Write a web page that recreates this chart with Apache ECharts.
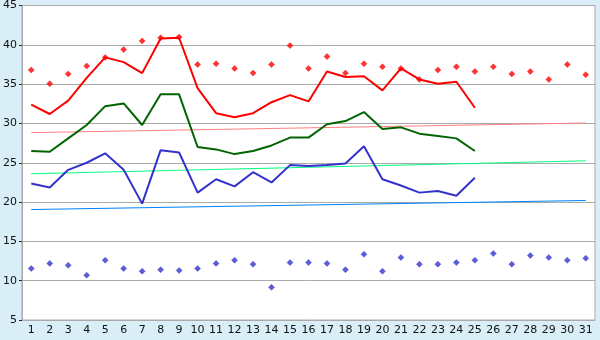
<!DOCTYPE html>
<html>
<head>
<meta charset="utf-8">
<script src="https://cdn.jsdelivr.net/npm/echarts@6/dist/echarts.min.js"></script>
<style>
  html, body { margin: 0; padding: 0; background: #d9eef6; }
  #chart { width: 600px; height: 340px; }
</style>
</head>
<body>
<div id="chart"></div>
<script>
// days of the month
const days = ['1','2','3','4','5','6','7','8','9','10','11','12','13','14','15','16',
  '17','18','19','20','21','22','23','24','25','26','27','28','29','30','31'];

// upper line + markers
const redLine = [32.4, 31.2, 32.9, 35.8, 38.4, 37.8, 36.4, 40.8, 40.9, 34.5, 31.3, 30.8, 31.3,
  32.7, 33.6, 32.8, 36.6, 35.9, 36.0, 34.2, 37.0, 35.6, 35.05, 35.3, 32.0];
const redMarks = [36.8, 35.05, 36.3, 37.3, 38.4, 39.4, 40.5, 40.9, 41.0, 37.5, 37.6, 37.0, 36.4,
  37.5, 39.9, 37.0, 38.5, 36.4, 37.6, 37.2, 37.0, 35.6, 36.8, 37.2, 36.6, 37.2, 36.3, 36.6,
  35.6, 37.5, 36.2];

// middle line
const greenLine = [26.5, 26.4, 28.1, 29.8, 32.2, 32.55, 29.8, 33.7, 33.7, 27.0, 26.7, 26.1, 26.5,
  27.2, 28.2, 28.2, 29.9, 30.3, 31.45, 29.3, 29.5, 28.7, 28.4, 28.1, 26.5];

// lower line + markers
const blueLine = [22.35, 21.85, 24.1, 25.0, 26.2, 24.1, 19.8, 26.6, 26.3, 21.2, 22.9, 22.0, 23.8,
  22.5, 24.7, 24.6, 24.7, 24.9, 27.1, 22.9, 22.1, 21.2, 21.4, 20.8, 23.1];
const blueMarks = [11.55, 12.2, 11.95, 10.7, 12.6, 11.55, 11.2, 11.4, 11.3, 11.55, 12.2, 12.6,
  12.1, 9.15, 12.3, 12.3, 12.2, 11.4, 13.35, 11.2, 12.95, 12.1, 12.1, 12.3, 12.6, 13.45, 12.1,
  13.2, 12.95, 12.6, 12.85];

// trend lines: value on day 1 and day 31
const pinkTrend = [28.83, 30.05];
const springTrend = [23.6, 25.25];
const skyTrend = [19.05, 20.2];

function trend(ends) {
  return days.map((d, i) => i === 0 ? ends[0] : (i === days.length - 1 ? ends[1] : null));
}

const chart = echarts.init(document.getElementById('chart'));

const labelFont = { fontFamily: 'DejaVu Sans', fontSize: 11, color: '#111' };

function trendSeries(ends, color) {
  return {
    type: 'line', data: trend(ends), connectNulls: true, symbol: 'none',
    lineStyle: { color: color, width: 1 }, z: 1, silent: true
  };
}
function mainLine(data, color) {
  return {
    type: 'line', data: data, symbol: 'none',
    lineStyle: { color: color, width: 2 }, z: 3, silent: true
  };
}
function marks(data, color) {
  return {
    type: 'scatter', data: data, symbol: 'diamond', symbolSize: 6,
    itemStyle: { color: color, borderColor: color, borderWidth: 0.5 }, z: 4, silent: true
  };
}

chart.setOption({
  animation: false,
  backgroundColor: '#d9eef6',
  grid: {
    left: 20, right: 5, top: 5, bottom: 20,
    show: true, backgroundColor: '#ffffff', borderColor: '#aaaaaa', borderWidth: 1
  },
  xAxis: {
    type: 'category',
    data: days,
    boundaryGap: true,
    axisLine: { lineStyle: { color: '#aaaaaa' } },
    axisTick: { alignWithLabel: true, length: 4, lineStyle: { color: '#222' } },
    axisLabel: Object.assign({ margin: 5, interval: 0 }, labelFont),
    splitLine: { show: false }
  },
  yAxis: {
    type: 'value',
    min: 5, max: 45, interval: 5,
    axisLine: { show: true, lineStyle: { color: '#aaaaaa' } },
    axisTick: { show: true, length: 3, lineStyle: { color: '#222' } },
    axisLabel: Object.assign({ margin: 5 }, labelFont),
    splitLine: { lineStyle: { color: '#aaaaaa', width: 1 } }
  },
  series: [
    trendSeries(pinkTrend, '#ff8080'),
    trendSeries(springTrend, '#00ff80'),
    trendSeries(skyTrend, '#0080ff'),
    mainLine(redLine, '#ff0000'),
    mainLine(greenLine, '#006400'),
    mainLine(blueLine, '#3333cc'),
    marks(redMarks, '#ff0000'),
    marks(blueMarks, '#3333cc')
  ]
});
</script>
</body>
</html>
